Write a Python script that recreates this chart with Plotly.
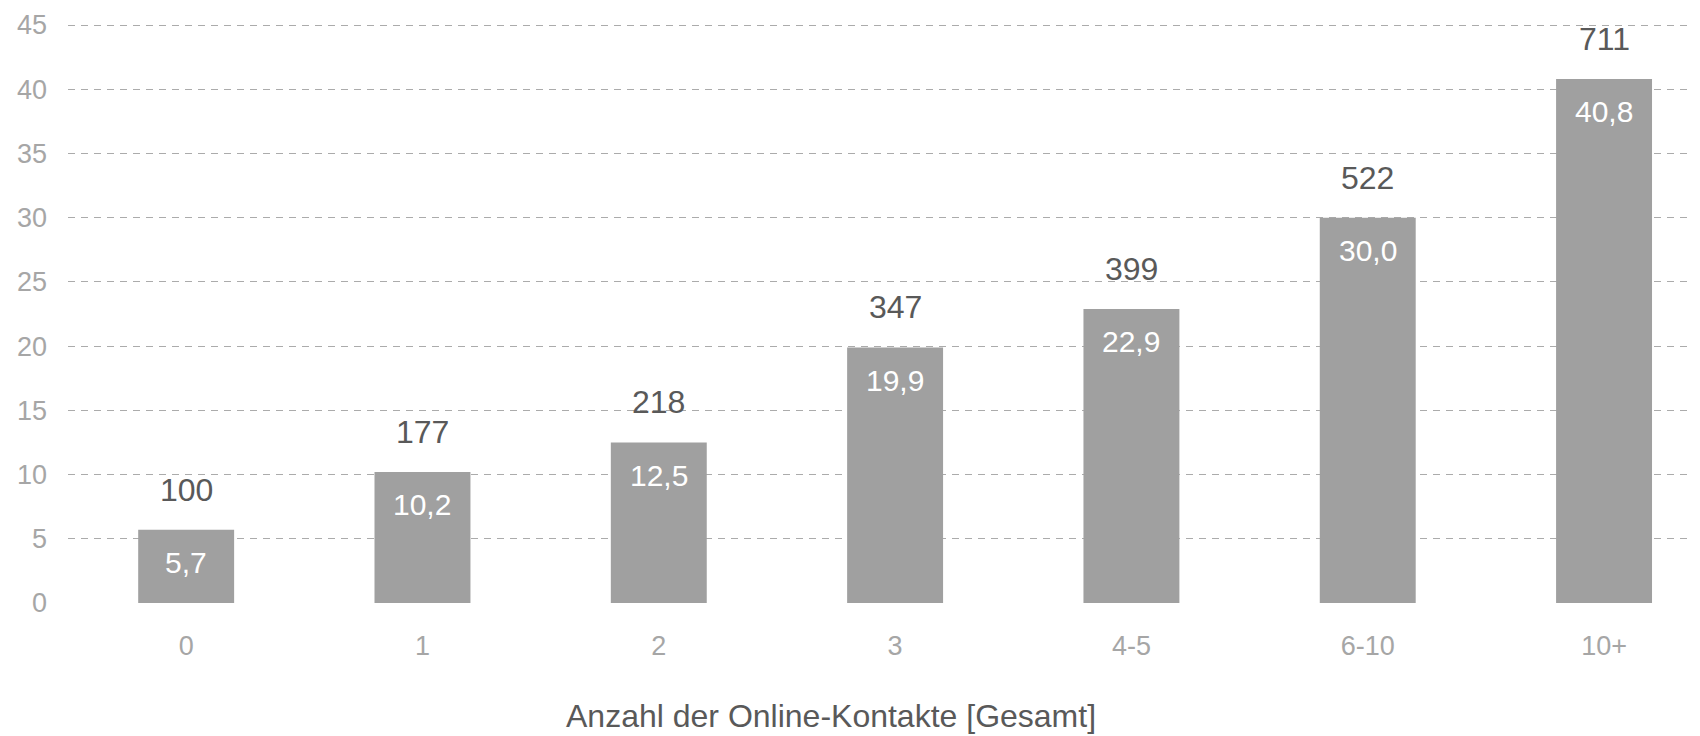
import plotly.graph_objects as go

categories = ["0", "1", "2", "3", "4-5", "6-10", "10+"]
percent_values = [5.7, 10.2, 12.5, 19.9, 22.9, 30.0, 40.8]
index_values = [100, 177, 218, 347, 399, 522, 711]
y_ticks = [0, 5, 10, 15, 20, 25, 30, 35, 40, 45]
axis_title = "Anzahl der Online-Kontakte [Gesamt]"

FONT = "Liberation Sans, Arial, sans-serif"
BAR_COLOR = "#A0A0A0"
TICK_COLOR = "#A6A6A6"
DARK = "#595959"

fig = go.Figure()
fig.add_trace(go.Bar(
    x=categories,
    y=percent_values,
    width=0.406,
    marker=dict(color=BAR_COLOR, line=dict(width=0)),
    hoverinfo="skip",
))

annotations = []
for c, v, idx in zip(categories, percent_values, index_values):
    annotations.append(dict(
        x=c, y=v, xref="x", yref="y",
        text=str(idx), showarrow=False,
        yanchor="middle", yshift=40,
        font=dict(family=FONT, size=32, color=DARK),
    ))
    annotations.append(dict(
        x=c, y=v, xref="x", yref="y",
        text=f"{v:.1f}".replace(".", ","), showarrow=False,
        yanchor="middle", yshift=-33,
        font=dict(family=FONT, size=30, color="white"),
    ))

annotations.append(dict(
    x=(831 - 68) / 1632, y=-(717 - 604) / 579, xref="paper", yref="paper",
    text=axis_title, showarrow=False, xanchor="center", yanchor="middle",
    font=dict(family=FONT, size=32, color=DARK),
))

fig.update_layout(
    width=1692, height=728,
    margin=dict(l=60, r=0, t=16, b=133, pad=0, autoexpand=False),
    paper_bgcolor="white",
    plot_bgcolor="white",
    showlegend=False,
    annotations=annotations,
    font=dict(family=FONT),
    xaxis=dict(
        type="category",
        range=[-0.5, 6.406],
        showgrid=False, zeroline=False, showline=False,
        ticks="",
        automargin=False,
        tickfont=dict(family=FONT, size=27, color=TICK_COLOR),
        ticklabelstandoff=24,
    ),
    yaxis=dict(
        range=[0, 45.08],
        tickvals=y_ticks,
        ticktext=[str(t) for t in y_ticks],
        showgrid=True, gridcolor="#ABABAB", gridwidth=1.3, griddash="7px,6px",
        zeroline=False, showline=False,
        ticks="",
        automargin=False,
        tickfont=dict(family=FONT, size=27, color=TICK_COLOR),
        ticklabelstandoff=20,
    ),
)

fig.write_html("out.html")
